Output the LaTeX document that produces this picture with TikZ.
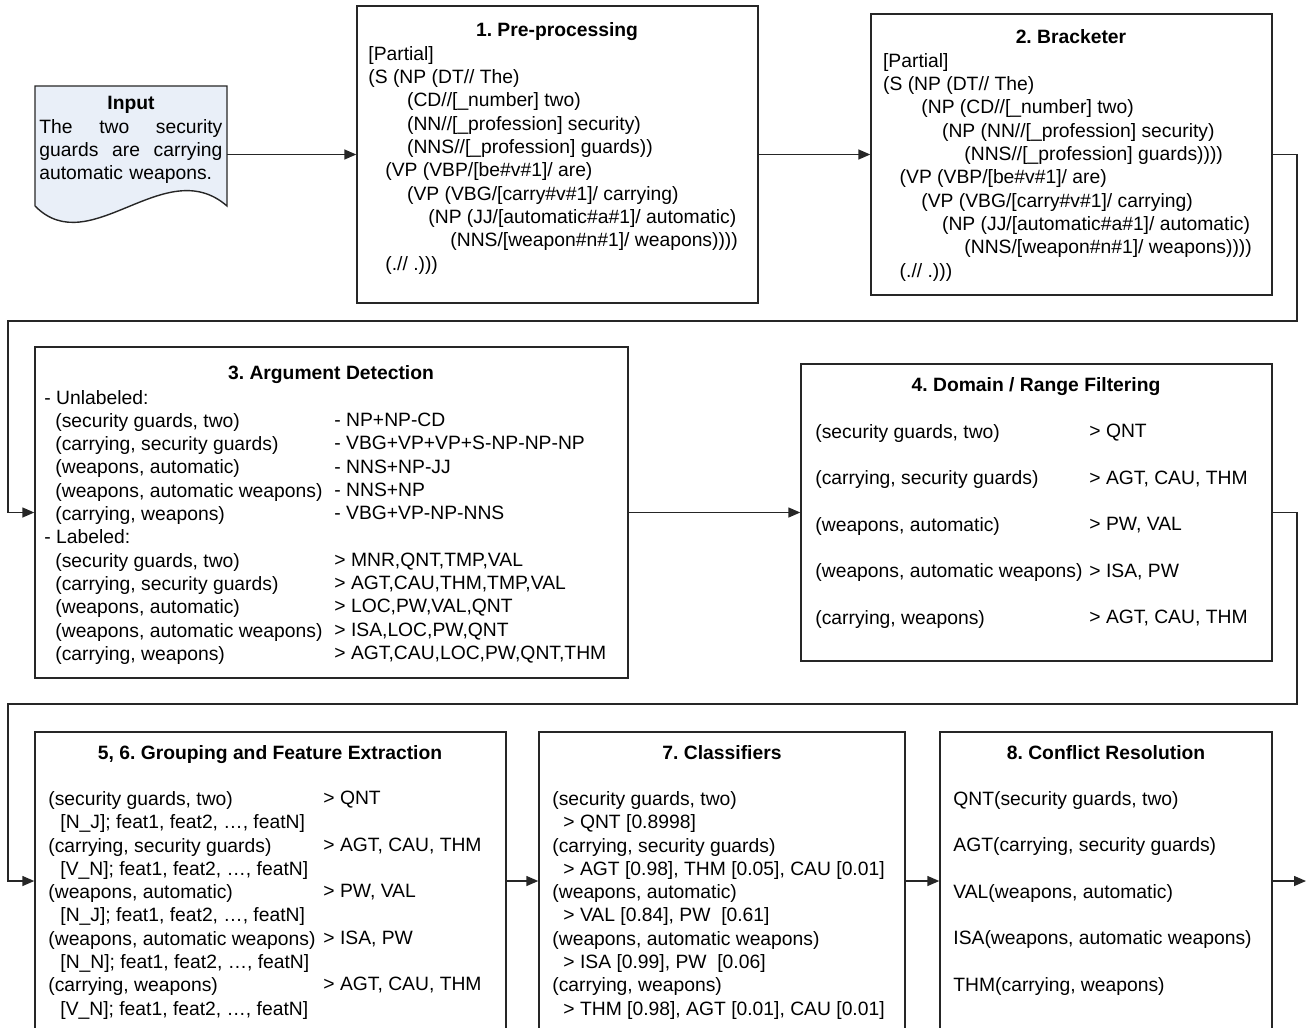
\documentclass[tikz,border=0pt]{standalone}
\usepackage{fontspec}
\setmainfont{Liberation Sans}
\usetikzlibrary{arrows.meta,positioning,calc}
\definecolor{pinput}{HTML}{E9EFF8}
\definecolor{pline}{HTML}{262626}
\frenchspacing
\tikzset{
  >={Triangle[length=6pt,width=5pt]},
  pstage/.style={draw=pline, line width=0.7pt, inner sep=0pt},
  ptitle/.style={anchor=base, font=\fontsize{9.65pt}{11.65pt}\selectfont\bfseries},
  ptext/.style={anchor=north west, align=left, inner sep=0pt},
  pwide/.style={ptext, font=\fontsize{9.65pt}{23.25pt}\selectfont},
  pflow/.style={->, draw=pline, line width=0.7pt},
}

\begin{document}
\begin{tikzpicture}[x=0.5pt,y=-0.5pt,font=\fontsize{9.65pt}{11.65pt}\selectfont]
  \useasboundingbox (0,0) rectangle (1309,1027);

  % input document
  \fill[pinput] (35,86) -- (227,86) -- (227,206)
        .. controls (165,152) and (90,262) .. (35,206) -- cycle;
  \draw[pline, line width=0.7pt] (35,206) -- (35,86) -- (227,86) -- (227,206)
        .. controls (165,152) and (90,262) .. (35,206);
  \node[minimum width=96pt, minimum height=60.5pt, inner sep=0pt] (inp) at (131,146.5) {};
  \node[ptitle] (inptitle) at (131,110) {Input};
  \node[ptext, text width=91.5pt] (inptext) at (39,119)
       {The\hfill two\hfill security\\guards\hfill are\hfill carrying\\automatic weapons.};

  % stage boxes
  \node[pstage, minimum width=200.5pt, minimum height=148.5pt] (b1) at (557.5,154.5) {};
  \node[pstage, minimum width=200.5pt, minimum height=140.5pt] (b2) at (1071.5,154.5) {};
  \node[pstage, minimum width=296.5pt, minimum height=165.5pt] (b3) at (331.5,512.5) {};
  \node[pstage, minimum width=235.5pt, minimum height=148.5pt] (b4) at (1036.5,512.5) {};
  \node[pstage, minimum width=235.5pt, minimum height=149pt] (b5) at (270.5,881) {};
  \node[pstage, minimum width=183pt, minimum height=149pt] (b7) at (722,881) {};
  \node[pstage, minimum width=166pt, minimum height=149pt] (b8) at (1106,881) {};

  % titles
  \node[ptitle] (b1title) at (557,37)  {1. Pre-processing};
  \node[ptitle] (b2title) at (1071,44) {2. Bracketer};
  \node[ptitle] (b3title) at (331,379) {3. Argument Detection};
  \node[ptitle] (b4title) at (1036,391) {4. Domain / Range Filtering};
  \node[ptitle] (b5title) at (270,759) {5, 6. Grouping and Feature Extraction};
  \node[ptitle] (b7title) at (722,759) {7. Classifiers};
  \node[ptitle] (b8title) at (1106,759) {8. Conflict Resolution};

  % 1. pre-processing
  \node[ptext] (b1text) at (368,46) {[Partial]\\
    (S (NP (DT// The)\\
    \hspace*{19.35pt}(CD//[\_number] two)\\
    \hspace*{19.35pt}(NN//[\_profession] security)\\
    \hspace*{19.35pt}(NNS//[\_profession] guards))\\
    \hspace*{8.5pt}(VP (VBP/[be\#v\#1]/ are)\\
    \hspace*{19.35pt}(VP (VBG/[carry\#v\#1]/ carrying)\\
    \hspace*{30pt}(NP (JJ/[automatic\#a\#1]/ automatic)\\
    \hspace*{41pt}(NNS/[weapon\#n\#1]/ weapons))))\\
    \hspace*{8.5pt}(.// .)))};

  % 2. bracketer
  \node[ptext] (b2text) at (882.7,53) {[Partial]\\
    (S (NP (DT// The)\\
    \hspace*{19.15pt}(NP (CD//[\_number] two)\\
    \hspace*{29.5pt}(NP (NN//[\_profession] security)\\
    \hspace*{40.65pt}(NNS//[\_profession] guards))))\\
    \hspace*{8.3pt}(VP (VBP/[be\#v\#1]/ are)\\
    \hspace*{19.15pt}(VP (VBG/[carry\#v\#1]/ carrying)\\
    \hspace*{29.5pt}(NP (JJ/[automatic\#a\#1]/ automatic)\\
    \hspace*{40.65pt}(NNS/[weapon\#n\#1]/ weapons))))\\
    \hspace*{8.3pt}(.// .)))};

  % 3. argument detection
  \node[ptext] (b3left) at (44,389.7) {- Unlabeled:\\
    \hspace*{5.5pt}(security guards, two)\\
    \hspace*{5.5pt}(carrying, security guards)\\
    \hspace*{5.5pt}(weapons, automatic)\\
    \hspace*{5.5pt}(weapons, automatic weapons)\\
    \hspace*{5.5pt}(carrying, weapons)\\
    - Labeled:\\
    \hspace*{5.5pt}(security guards, two)\\
    \hspace*{5.5pt}(carrying, security guards)\\
    \hspace*{5.5pt}(weapons, automatic)\\
    \hspace*{5.5pt}(weapons, automatic weapons)\\
    \hspace*{5.5pt}(carrying, weapons)};
  \node[ptext] (b3right) at (334,412.7) {- NP+NP-CD\\
    - VBG+VP+VP+S-NP-NP-NP\\
    - NNS+NP-JJ\\
    - NNS+NP\\
    - VBG+VP-NP-NNS\\
    \mbox{}\\
    > MNR,QNT,TMP,VAL\\
    > AGT,CAU,THM,TMP,VAL\\
    > LOC,PW,VAL,QNT\\
    > ISA,LOC,PW,QNT\\
    > AGT,CAU,LOC,PW,QNT,THM};

  % 4. domain / range filtering
  \node[pwide] (b4left) at (815,424) {(security guards, two)\\
    (carrying, security guards)\\
    (weapons, automatic)\\
    (weapons, automatic weapons)\\
    (carrying, weapons)};
  \node[pwide] (b4right) at (1089,424) {> QNT\\
    > AGT, CAU, THM\\
    > PW, VAL\\
    > ISA, PW\\
    > AGT, CAU, THM};

  % 5, 6. grouping and feature extraction
  \node[ptext] (b5left) at (48,791) {(security guards, two)\\
    \hspace*{6pt}[N\_J]; feat1, feat2, …, featN]\\
    (carrying, security guards)\\
    \hspace*{6pt}[V\_N]; feat1, feat2, …, featN]\\
    (weapons, automatic)\\
    \hspace*{6pt}[N\_J]; feat1, feat2, …, featN]\\
    (weapons, automatic weapons)\\
    \hspace*{6pt}[N\_N]; feat1, feat2, …, featN]\\
    (carrying, weapons)\\
    \hspace*{6pt}[V\_N]; feat1, feat2, …, featN]};
  \node[pwide] (b5right) at (323,791) {> QNT\\
    > AGT, CAU, THM\\
    > PW, VAL\\
    > ISA, PW\\
    > AGT, CAU, THM};

  % 7. classifiers
  \node[ptext] (b7text) at (552,791) {(security guards, two)\\
    \hspace*{5.5pt}> QNT [0.8998]\\
    (carrying, security guards)\\
    \hspace*{5.5pt}> AGT [0.98], THM [0.05], CAU [0.01]\\
    (weapons, automatic)\\
    \hspace*{5.5pt}> VAL [0.84], PW\ \ [0.61]\\
    (weapons, automatic weapons)\\
    \hspace*{5.5pt}> ISA [0.99], PW\ \ [0.06]\\
    (carrying, weapons)\\
    \hspace*{5.5pt}> THM [0.98], AGT [0.01], CAU [0.01]};

  % 8. conflict resolution
  \node[pwide] (b8text) at (953,791) {QNT(security guards, two)\\
    AGT(carrying, security guards)\\
    VAL(weapons, automatic)\\
    ISA(weapons, automatic weapons)\\
    THM(carrying, weapons)};

  % connectors
  \coordinate (t1) at (1297,321);
  \coordinate (t2) at (8,321);
  \coordinate (t3) at (1297,704);
  \coordinate (t4) at (8,704);
  \coordinate (out) at (1306,881);
  \draw[pflow] (inp.east |- b1.west) -- (b1.west);
  \draw[pflow] (b1.east) -- (b2.west);
  \draw[pflow] (b2.east) -| (t1) -- (t2) |- (b3.west);
  \draw[pflow] (b3.east) -- (b4.west);
  \draw[pflow] (b4.east) -| (t3) -- (t4) |- (b5.west);
  \draw[pflow] (b5.east) -- (b7.west);
  \draw[pflow] (b7.east) -- (b8.west);
  \draw[pflow] (b8.east) -- (out);
\end{tikzpicture}
\end{document}
